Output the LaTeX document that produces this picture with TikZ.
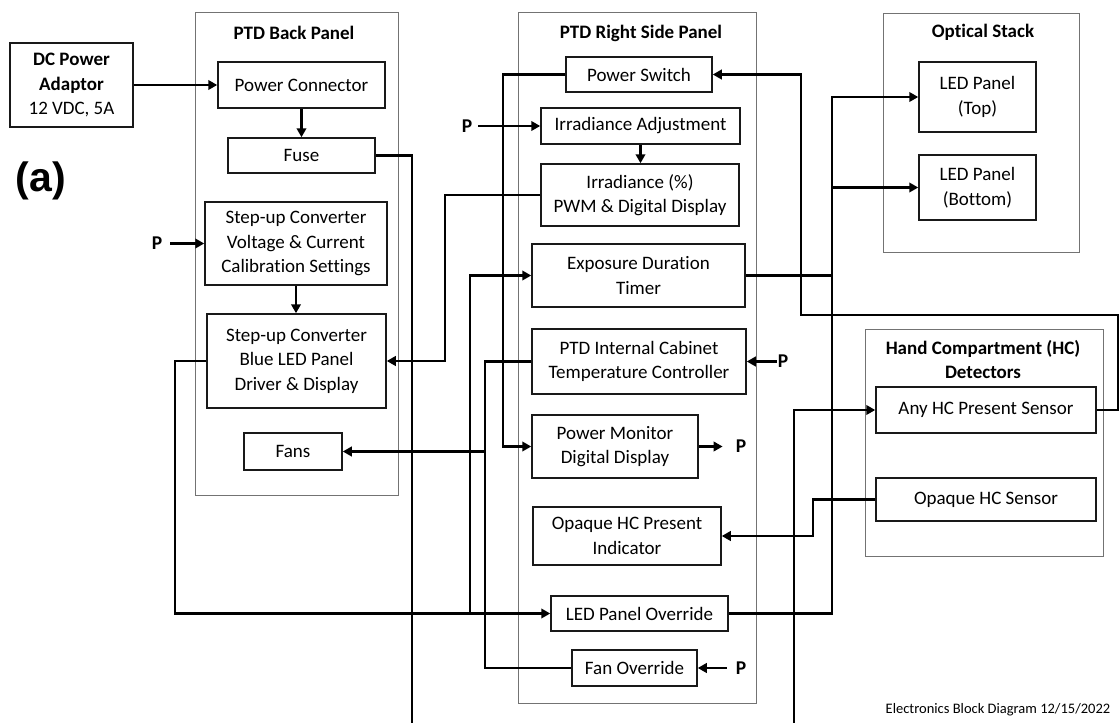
\documentclass[tikz,border=0pt]{standalone}
\usepackage{fontspec}
\setmainfont{Carlito}[Ligatures={NoCommon}]
\newfontfamily\arialfont{Liberation Sans}
\usetikzlibrary{arrows.meta}
\newcommand\mkbox[7][box]{\node[#1, minimum width={(#5)-(#3)}, minimum height={(#6)-(#4)}] (#2) at ({((#3)+(#5))/2},{((#4)+(#6))/2}) {#7};}
\begin{document}
\begin{tikzpicture}[x=1pt,y=-1pt,
  box/.style={draw=black!90, line width=1.5pt, align=center, inner sep=0pt, font=\fontsize{19}{24.5}\selectfont},
  panel/.style={draw=black!55, line width=1pt, inner sep=0pt},
  hdr/.style={font=\fontsize{19}{24}\selectfont\bfseries, align=center, inner sep=0pt},
  plab/.style={font=\fontsize{19.5}{23}\selectfont\bfseries, inner sep=1pt},
  conn/.style={line width=2.9pt, line join=miter},
  arr/.style={conn, -{Triangle[length=9pt,width=9.5pt]}},
]
\useasboundingbox (0,0) rectangle (1120,723);
\fill[white] (0,0) rectangle (1120,723);

% panels
\mkbox[panel]{backp}{195}{12}{398}{495}{}
\mkbox[panel]{rightp}{518}{12}{756}{703}{}
\mkbox[panel]{optp}{883}{13}{1079}{252}{}
\mkbox[panel]{hcp}{865}{329}{1103}{556}{}

\node[hdr] (hback) at (294,33) {PTD Back Panel};
\node[hdr] (hright) at (641,33) {PTD Right Side Panel};
\node[hdr] (hopt) at (983,32) {Optical Stack};
\node[hdr] (hhc) at (983,360) {Hand Compartment (HC)\\Detectors};

% boxes
\mkbox{dc}{10}{43}{133}{127}{\textbf{DC Power}\\\textbf{Adaptor}\\12 VDC, 5A}
\mkbox{pc}{218}{62}{385}{108}{Power Connector}
\mkbox{fuse}{228}{138}{375}{173}{Fuse}
\mkbox{cal}{205}{202}{387}{285}{Step-up Converter\\Voltage \& Current\\Calibration Settings}
\mkbox{drv}{207}{314}{386}{408}{Step-up Converter\\Blue LED Panel\\Driver \& Display}
\mkbox{fans}{244}{433}{342}{470}{Fans}

\mkbox{sw}{566}{57}{712}{92}{Power Switch}
\mkbox{iadj}{541}{108}{740}{144}{Irradiance Adjustment}
\mkbox{ipct}{541}{164}{739}{226}{Irradiance (\%)\\PWM \& Digital Display}
\mkbox{timer}{532}{244}{745}{307}{Exposure Duration\\Timer}
\mkbox{temp}{532}{329}{746}{394}{PTD Internal Cabinet\\Temperature Controller}
\mkbox{pmon}{532}{415}{698}{478}{Power Monitor\\Digital Display}
\mkbox{opind}{533}{507}{721}{565}{Opaque HC Present\\Indicator}
\mkbox{ledov}{551}{596}{728}{631}{LED Panel Override}
\mkbox{fanov}{572}{650}{697}{686}{Fan Override}

\mkbox{ledt}{919}{62}{1036}{132}{LED Panel\\(Top)}
\mkbox{ledb}{919}{155}{1036}{220}{LED Panel\\(Bottom)}
\mkbox{anyhc}{876}{387}{1096}{433}{Any HC Present Sensor}
\mkbox{ophc}{876}{478}{1096}{521}{Opaque HC Sensor}

% labels
\node[font=\fontsize{41}{41}\arialfont\bfseries, inner sep=0pt] (lbla) at (41,180.5) {(a)};
\node[font=\fontsize{14.5}{16}\selectfont, inner sep=0pt] (foot) at (998,710) {Electronics Block Diagram 12/15/2022};

\node[plab] (p1) at (157,243.5) {P};
\node[plab] (p2) at (467,126) {P};
\node[plab] (p3) at (783,361.5) {P};
\node[plab] (p4) at (741,446.5) {P};
\node[plab] (p5) at (741,668) {P};

% column coordinates
\coordinate (c175) at (175,0);
\coordinate (c445) at (445,0);
\coordinate (c470) at (470,0);
\coordinate (c485) at (485,0);
\coordinate (c503) at (503,0);
\coordinate (c813) at (813,0);
\coordinate (c832) at (832,0);
\coordinate (fusebot) at (412,724);
\coordinate (hcbot) at (794,724);
\coordinate (k1) at (1118,315);
\coordinate (k2) at (801,315);

% connectors
\draw[arr] (dc.east) -- (pc.west);
\draw[arr] (pc.south) -- (fuse.north);
\draw[conn] (fuse.east) -| (fusebot);
\draw[arr] (cal.south) -- (cal.south |- drv.north);
\draw[arr] (sw.west) -| (c503 |- pmon.west) -- (pmon.west);
\draw[arr] (anyhc.east) -| (k1) -- (k2) |- (sw.east);
\draw[arr] (iadj.south) -- (iadj.south |- ipct.north);
\draw[arr] (ipct.west) -| (c445 |- drv.east) -- (drv.east);
\draw[arr] (drv.west) -| (c175 |- ledov.west) -- (ledov.west);
\draw[arr] (c470 |- ledov.west) |- (timer.west);
\draw[arr] (timer.east) -| (c832 |- ledt.west) -- (ledt.west);
\draw[arr] (c832 |- ledb.west) -- (ledb.west);
\draw[conn] (ledov.east) -| (c832 |- timer.east);
\draw[conn] (temp.west) -| (c485 |- fanov.west) -- (fanov.west);
\draw[arr] (c485 |- fans.east) -- (fans.east);
\draw[arr] (ophc.west) -| (c813 |- opind.east) -- (opind.east);
\draw[arr] (hcbot) |- (anyhc.west);

% P arrows
\draw[arr] ([xshift=7pt]p1.east) -- (cal.west |- p1.east);
\draw[arr] ([xshift=5pt]p2.east) -- (iadj.west);
\draw[arr] (p3.west) -- (temp.east);
\draw[arr, shorten >=12pt] (pmon.east) -- (p4.west);
\draw[arr] ([xshift=-8pt]p5.west) -- (fanov.east);
\end{tikzpicture}
\end{document}
